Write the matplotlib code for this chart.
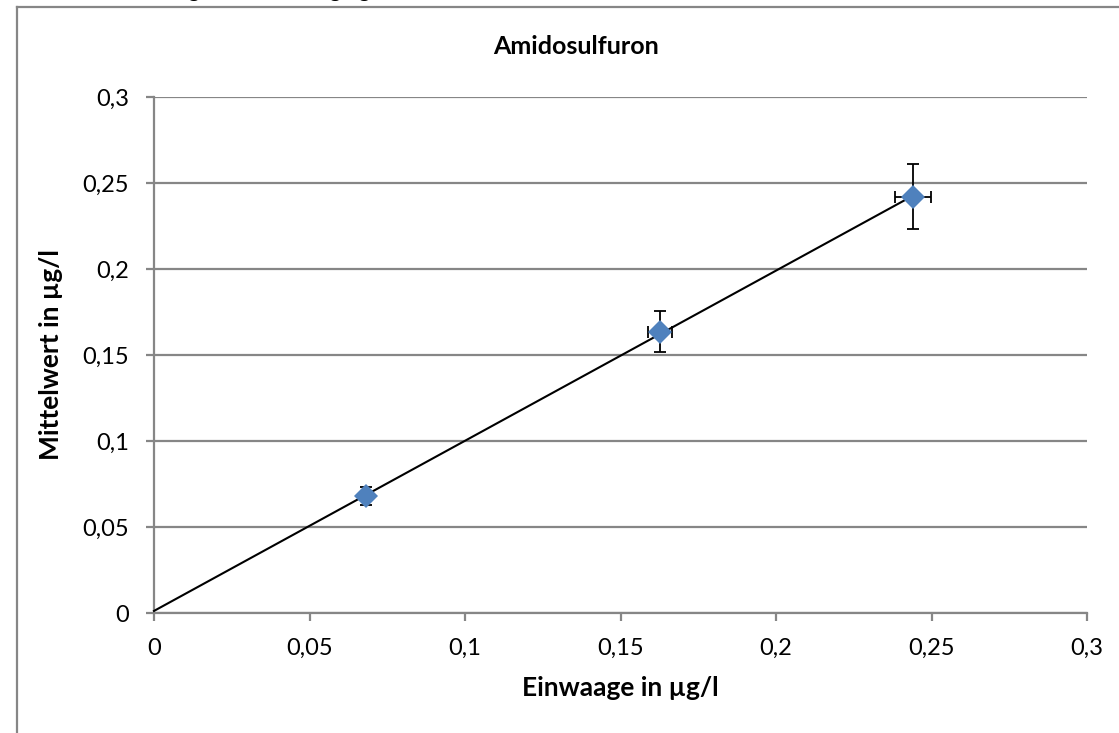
import numpy as np
import matplotlib
matplotlib.use("Agg")
import matplotlib.pyplot as plt
from matplotlib.lines import Line2D
from matplotlib.ticker import FuncFormatter

plt.rcParams['font.family'] = ['Lato', 'DejaVu Sans']

# Measured data: weighed-in concentration vs. mean measured value
einwaage = [0.0682, 0.1627, 0.2441]
mittelwert = [0.0680, 0.1636, 0.2419]
err_x = [0.0015, 0.0040, 0.0058]
err_y = [0.0053, 0.0121, 0.0189]

ticks = [0, 0.05, 0.1, 0.15, 0.2, 0.25, 0.3]

W, H = 1119, 733
fig = plt.figure(figsize=(W / 100, H / 100), dpi=100)
ax = fig.add_axes([154 / W, 1 - 613 / H, (1087 - 154) / W, (613 - 97) / H])

grey = '#868686'

# Chart-area frame (left and top edge)
fig.add_artist(Line2D([17 / W, 17 / W], [0, 1 - 7 / H], color=grey, lw=1.6,
                      transform=fig.transFigure))
fig.add_artist(Line2D([17 / W, 1], [1 - 7 / H, 1 - 7 / H], color=grey, lw=1.6,
                      transform=fig.transFigure))

# Heading above the chart
fig.text(50 / W, 1 + 3 / H, 'Wiederfindung nach Einwaage gelöst', fontsize=16,
         fontweight='bold', ha='left', va='baseline', color='black')

# Chart title, centred on the chart area
fig.text(576 / W, 1 - 46 / H, 'Amidosulfuron', fontsize=18, fontweight='bold',
         ha='center', va='center')

ax.set_xlim(0, 0.3)
ax.set_ylim(0, 0.3)
ax.set_xticks(ticks)
ax.set_yticks(ticks)

fmt = FuncFormatter(lambda v, p: ('%g' % round(v, 4)).replace('.', ','))
ax.xaxis.set_major_formatter(fmt)
ax.yaxis.set_major_formatter(fmt)

ax.grid(axis='y', color=grey, lw=1.6)
ax.set_axisbelow(True)
for side in ['top', 'right']:
    ax.spines[side].set_visible(False)
for side in ['left', 'bottom']:
    ax.spines[side].set_color(grey)
    ax.spines[side].set_linewidth(1.6)
ax.tick_params(axis='both', colors=grey, width=1.6, length=6, labelsize=17,
               labelcolor='black')
ax.tick_params(axis='x', pad=12)
ax.tick_params(axis='y', pad=12)

# Linear trend line from x = 0 to the largest x value
slope, intercept = np.polyfit(einwaage, mittelwert, 1)
xl = np.array([0, max(einwaage)])
ax.plot(xl, slope * xl + intercept, color='black', lw=1.5, zorder=3,
        clip_on=False)

ax.errorbar(einwaage, mittelwert, xerr=err_x, yerr=err_y, fmt='none',
            ecolor='black', elinewidth=1.3, capsize=4.5, capthick=1.3, zorder=2)
ax.plot(einwaage, mittelwert, 'D', color='#4F81BD', markersize=12,
        markeredgewidth=0, zorder=4)

ax.set_xlabel('Einwaage in µg/l', fontsize=19, fontweight='bold', labelpad=12)
ax.set_ylabel('Mittelwert in µg/l', fontsize=19, fontweight='bold', labelpad=14)

fig.savefig('out.png', dpi=100)
